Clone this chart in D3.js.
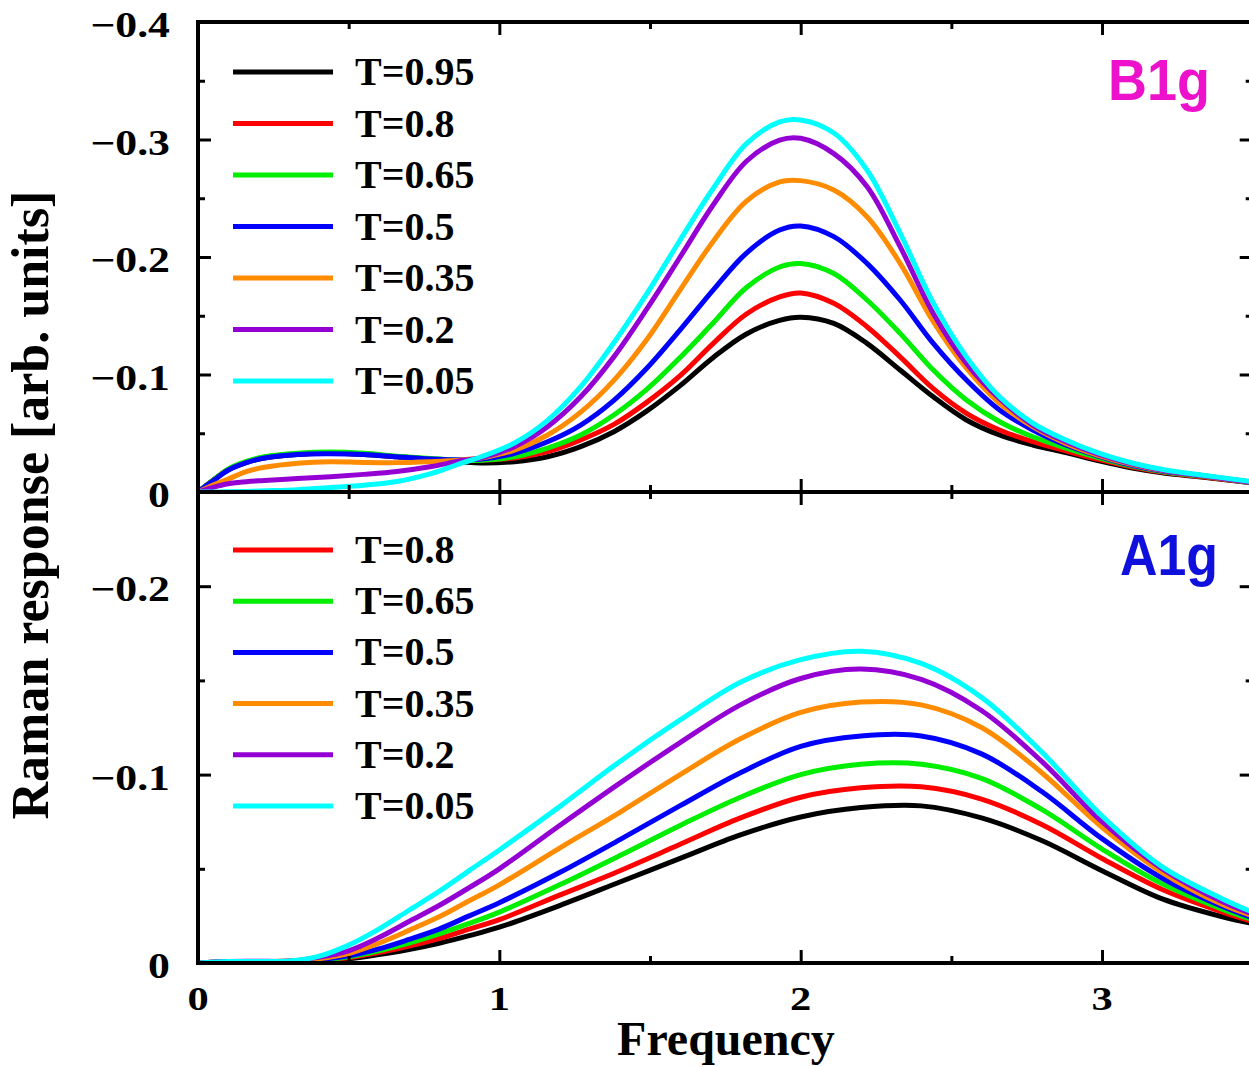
<!DOCTYPE html>
<html><head><meta charset="utf-8">
<script src="https://cdn.jsdelivr.net/npm/d3@7"></script>
<style>
html,body{margin:0;padding:0;background:#fff;}
svg{display:block;}
</style></head>
<body>
<svg id="chart" width="1249" height="1067"></svg>
<script>
// ---------- DATA ----------
const tempLabels = ["T=0.95","T=0.8","T=0.65","T=0.5","T=0.35","T=0.2","T=0.05"];
const seriesColors = ["#000000","#ff0000","#00ee00","#0000ff","#ff8c00","#9400d3","#00ffff"];

// B1g panel (upper)
const freqB = [0,0.05,0.1,0.16,0.22,0.33,0.44,0.55,0.66,0.77,0.83,0.88,0.94,1.05,1.16,1.27,1.38,1.49,1.6,1.71,1.82,1.93,2.0,2.11,2.22,2.33,2.44,2.55,2.66,2.77,2.88,2.99,3.1,3.21,3.33,3.5];
const b1g_T095 = [0,0.010,0.019,0.025,0.029,0.032,0.033,0.032,0.030,0.028,0.0265,0.0255,0.0247,0.0258,0.030,0.0386,0.0513,0.069,0.0905,0.1145,0.1345,0.146,0.1487,0.1435,0.1265,0.1038,0.081,0.0613,0.0485,0.040,0.0335,0.0265,0.0204,0.016,0.0128,0.0077];
const b1g_T080 = [0,0.010,0.019,0.0255,0.0295,0.0325,0.0335,0.0325,0.030,0.028,0.027,0.0265,0.027,0.029,0.0343,0.0443,0.0575,0.0765,0.099,0.1265,0.1515,0.166,0.1694,0.1606,0.1407,0.115,0.088,0.067,0.0528,0.0428,0.035,0.0275,0.0213,0.0165,0.013,0.0079];
const b1g_T065 = [0,0.010,0.0195,0.026,0.030,0.033,0.034,0.033,0.0305,0.0285,0.0275,0.027,0.027,0.030,0.0374,0.0485,0.0655,0.0875,0.1145,0.1440,0.1740,0.1915,0.1945,0.186,0.1634,0.135,0.1038,0.0783,0.0598,0.047,0.0374,0.029,0.022,0.017,0.0135,0.008];
const b1g_T050 = [0,0.0095,0.0185,0.025,0.029,0.032,0.0325,0.032,0.030,0.028,0.0275,0.0275,0.028,0.033,0.0428,0.057,0.078,0.1055,0.138,0.172,0.2034,0.223,0.2264,0.2173,0.1946,0.1634,0.1265,0.0953,0.0698,0.0528,0.040,0.0304,0.0227,0.0175,0.014,0.0082];
const b1g_T035 = [0,0.006,0.011,0.0173,0.021,0.0245,0.0258,0.0252,0.025,0.0258,0.0265,0.0275,0.029,0.0357,0.0485,0.068,0.095,0.130,0.172,0.2135,0.2475,0.264,0.265,0.257,0.2343,0.1946,0.145,0.1053,0.0755,0.0556,0.0414,0.031,0.0233,0.0178,0.014,0.0082];
const b1g_T020 = [0,0.004,0.007,0.0088,0.0098,0.0115,0.013,0.015,0.0175,0.0215,0.0245,0.027,0.029,0.0386,0.0556,0.081,0.115,0.156,0.200,0.2445,0.2815,0.2995,0.301,0.288,0.26,0.2088,0.152,0.1095,0.0794,0.057,0.0428,0.032,0.024,0.018,0.014,0.0082];
const b1g_T005 = [0,0,0.0002,0.0005,0.001,0.002,0.0038,0.0058,0.009,0.0155,0.0205,0.025,0.030,0.0417,0.061,0.0896,0.127,0.169,0.2145,0.2585,0.2965,0.315,0.3166,0.3055,0.274,0.2204,0.161,0.115,0.081,0.0587,0.0443,0.033,0.0247,0.0187,0.0145,0.0088];

// A1g panel (lower)
const freqA = [0,0.1,0.2,0.3,0.4,0.5,0.6,0.7,0.8,0.9,1.0,1.2,1.4,1.6,1.8,2.0,2.2,2.4,2.6,2.8,3.0,3.2,3.4,3.5];
const a1g_T095 = [0,0.0005,0.0005,0.0005,0.001,0.0022,0.0045,0.0072,0.0105,0.0145,0.019,0.0305,0.043,0.0555,0.068,0.0775,0.0825,0.0834,0.077,0.065,0.049,0.034,0.0245,0.021];
const a1g_T080 = [0,0.0005,0.0005,0.0006,0.0012,0.0028,0.0055,0.009,0.013,0.018,0.023,0.036,0.049,0.063,0.077,0.088,0.093,0.0935,0.087,0.0735,0.0555,0.039,0.027,0.022];
const a1g_T065 = [0,0.0005,0.0006,0.0007,0.0014,0.0033,0.0065,0.0106,0.0155,0.021,0.027,0.0415,0.057,0.073,0.088,0.100,0.1055,0.1055,0.098,0.0815,0.0605,0.042,0.0285,0.023];
const a1g_T050 = [0,0.0006,0.0007,0.0008,0.0018,0.0038,0.0075,0.0125,0.018,0.025,0.032,0.048,0.0655,0.0835,0.101,0.115,0.1205,0.1205,0.111,0.091,0.066,0.045,0.030,0.024];
const a1g_T035 = [0,0.0007,0.0008,0.001,0.0023,0.005,0.0105,0.0173,0.0245,0.033,0.0415,0.061,0.080,0.100,0.119,0.133,0.1385,0.137,0.125,0.101,0.072,0.048,0.031,0.025];
const a1g_T020 = [0,0.0008,0.0009,0.001,0.003,0.0065,0.0135,0.022,0.0305,0.040,0.050,0.073,0.0955,0.117,0.137,0.151,0.156,0.1505,0.134,0.107,0.075,0.050,0.0325,0.026];
const a1g_T005 = [0,0.0008,0.0008,0.001,0.0035,0.0095,0.018,0.028,0.038,0.049,0.060,0.083,0.107,0.129,0.149,0.161,0.1655,0.159,0.141,0.112,0.078,0.051,0.034,0.027];

const b1gSeries = [b1g_T095,b1g_T080,b1g_T065,b1g_T050,b1g_T035,b1g_T020,b1g_T005];
const a1gSeries = [a1g_T095,a1g_T080,a1g_T065,a1g_T050,a1g_T035,a1g_T020,a1g_T005];

const xTicks = [0,1,2,3];
const xMinor = [0.5,1.5,2.5];
const yTicksB = [0,-0.1,-0.2,-0.3,-0.4];
const yMinorB = [-0.05,-0.15,-0.25,-0.35];
const yTicksA = [0,-0.1,-0.2];
const yMinorA = [-0.05,-0.15,-0.25];
const legendB = [0,1,2,3,4,5,6];
const legendA = [1,2,3,4,5,6];

// ---------- LAYOUT ----------
const svg = d3.select("#chart");
const X0 = 198, X1 = 1252.7;
const x = d3.scaleLinear().domain([0,3.5]).range([X0,X1]);
const yB = d3.scaleLinear().domain([0,-0.4]).range([492,22]);
const yA = d3.scaleLinear().domain([0,-0.25]).range([963,492]);
const serif = "'Liberation Serif','Times New Roman',serif";
const sans = "'Liberation Sans',Arial,sans-serif";

svg.append("defs").html(
  `<clipPath id="clipB"><rect x="${X0}" y="22" width="${X1-X0}" height="${492-22}"/></clipPath>
   <clipPath id="clipA"><rect x="${X0}" y="492" width="${X1-X0}" height="${963-492}"/></clipPath>`);

function drawCurves(freq, series, yS, clip){
  const g = svg.append("g").attr("clip-path", `url(#${clip})`);
  const line = d3.line().x(d=>x(d[0])).y(d=>yS(-d[1])).curve(d3.curveCatmullRom.alpha(0.5));
  series.forEach((vals,i)=>{
    g.append("path").datum(freq.map((f,k)=>[f,vals[k]]))
      .attr("d", line).attr("fill","none")
      .attr("stroke", seriesColors[i]).attr("stroke-width",5)
      .attr("stroke-linejoin","round");
  });
}
drawCurves(freqB, b1gSeries, yB, "clipB");
drawCurves(freqA, a1gSeries, yA, "clipA");

// Frames
const frame = svg.append("g").attr("stroke","#000").attr("fill","none").attr("stroke-width",4);
frame.append("rect").attr("x",X0).attr("y",22).attr("width",X1-X0).attr("height",963-22);
frame.append("line").attr("x1",X0).attr("x2",X1).attr("y1",492).attr("y2",492);

// Ticks via d3 axes (inner ticks)
function tickAxis(axisFn, scale, vals, size, transform){
  const g = svg.append("g").attr("transform", transform)
    .call(axisFn(scale).tickValues(vals).tickSize(size).tickFormat(""));
  g.select(".domain").remove();
  g.selectAll(".tick line").attr("stroke","#000").attr("stroke-width",3);
  return g;
}
tickAxis(d3.axisRight, yB, yTicksB, 13, `translate(${X0},0)`);
tickAxis(d3.axisRight, yB, yMinorB, 7, `translate(${X0},0)`);
tickAxis(d3.axisLeft, yB, yTicksB, 13, `translate(${X1},0)`);
tickAxis(d3.axisLeft, yB, yMinorB, 7, `translate(${X1},0)`);
tickAxis(d3.axisRight, yA, yTicksA, 13, `translate(${X0},0)`);
tickAxis(d3.axisRight, yA, yMinorA, 7, `translate(${X0},0)`);
tickAxis(d3.axisLeft, yA, yTicksA, 13, `translate(${X1},0)`);
tickAxis(d3.axisLeft, yA, yMinorA, 7, `translate(${X1},0)`);
tickAxis(d3.axisBottom, x, xTicks, 13, `translate(0,22)`);
tickAxis(d3.axisBottom, x, xMinor, 7, `translate(0,22)`);
tickAxis(d3.axisTop, x, xTicks, 13, `translate(0,492)`);
tickAxis(d3.axisTop, x, xMinor, 7, `translate(0,492)`);
tickAxis(d3.axisBottom, x, xTicks, 13, `translate(0,492)`);
tickAxis(d3.axisBottom, x, xMinor, 7, `translate(0,492)`);
tickAxis(d3.axisTop, x, xTicks, 13, `translate(0,963)`);
tickAxis(d3.axisTop, x, xMinor, 7, `translate(0,963)`);

// Tick labels (horizontally stretched like the original)
const fmtY = v => v===0 ? "0" : "\u2212" + Math.abs(v).toFixed(1);
function yLabels(scale, vals){
  svg.append("g").selectAll("text").data(vals).join("text")
    .attr("transform", d=>`translate(170,${scale(d)+15}) scale(1.25,1)`)
    .attr("text-anchor","end").attr("font-family",serif).attr("font-weight","bold")
    .attr("font-size",35).text(fmtY);
}
yLabels(yB, yTicksB);
yLabels(yA, yTicksA);
svg.append("g").selectAll("text").data(xTicks).join("text")
  .attr("transform", d=>`translate(${x(d)},1010) scale(1.25,1)`)
  .attr("text-anchor","middle")
  .attr("font-family",serif).attr("font-weight","bold").attr("font-size",34)
  .text(d=>d);

// Axis titles
svg.append("text").attr("x",726).attr("y",1055).attr("text-anchor","middle")
  .attr("font-family",serif).attr("font-weight","bold").attr("font-size",48)
  .text("Frequency");
svg.append("text").attr("transform","translate(48,505) rotate(-90)")
  .attr("text-anchor","middle").attr("font-family",serif).attr("font-weight","bold")
  .attr("font-size",52).text("Raman response [arb. units]");

// Legends
function legend(idxs, y0, step){
  const g = svg.append("g");
  idxs.forEach((i,k)=>{
    const yy = y0 + k*step;
    g.append("line").attr("x1",233).attr("x2",333).attr("y1",yy).attr("y2",yy)
      .attr("stroke",seriesColors[i]).attr("stroke-width",5);
    g.append("text").attr("x",355).attr("y",yy+13)
      .attr("font-family",serif).attr("font-weight","bold").attr("font-size",40)
      .text(tempLabels[i]);
  });
}
legend(legendB, 72, 51.5);
legend(legendA, 550, 51.2);

// Panel labels
svg.append("text").attr("x",1108).attr("y",100).attr("font-family",sans)
  .attr("font-weight","bold").attr("font-size",58).attr("fill","#ee11cc")
  .attr("textLength",102).attr("lengthAdjust","spacingAndGlyphs").text("B1g");
svg.append("text").attr("x",1120).attr("y",575).attr("font-family",sans)
  .attr("font-weight","bold").attr("font-size",58).attr("fill","#1010dd")
  .attr("textLength",98).attr("lengthAdjust","spacingAndGlyphs").text("A1g");
</script>
</body></html>
